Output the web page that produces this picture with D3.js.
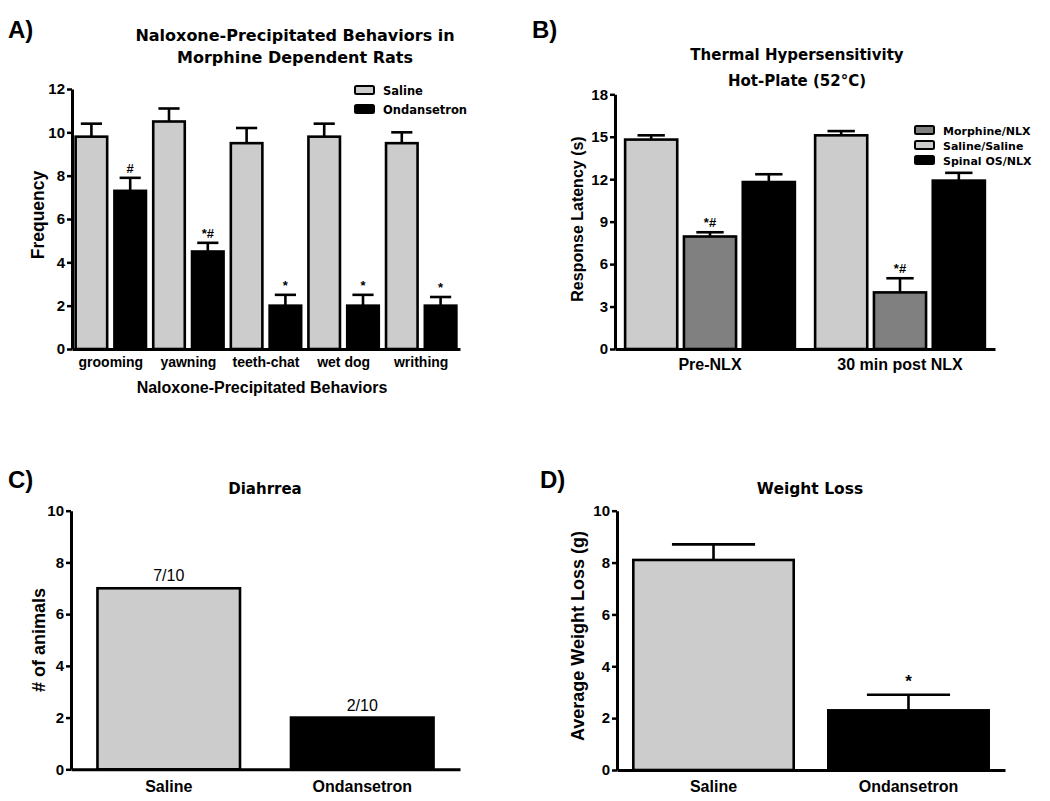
<!DOCTYPE html>
<html><head><meta charset="utf-8">
<script src="https://cdn.jsdelivr.net/npm/d3@7"></script>
<style>body{margin:0;background:#fff}svg{display:block}</style>
</head><body>
<script>
// ---------- DATA ----------
// Panel A
const behaviors = ["grooming", "yawning", "teeth-chat", "wet dog", "writhing"];
const seriesA = ["Saline", "Ondansetron"];
const salineFreq = [9.8, 10.5, 9.5, 9.8, 9.5];
const salineFreqErr = [0.6, 0.6, 0.7, 0.6, 0.5];
const ondFreq = [7.3, 4.5, 2.0, 2.0, 2.0];
const ondFreqErr = [0.6, 0.4, 0.5, 0.5, 0.4];
const ondFreqSig = ["#", "*#", "*", "*", "*"];
const ticksA = [0, 2, 4, 6, 8, 10, 12];

// Panel B
const timepoints = ["Pre-NLX", "30 min post NLX"];
const seriesB = ["Saline/Saline", "Morphine/NLX", "Spinal OS/NLX"];
const legendOrderB = ["Morphine/NLX", "Saline/Saline", "Spinal OS/NLX"];
const salSalLatency = [14.8, 15.1];
const salSalErr = [0.3, 0.3];
const morphLatency = [7.95, 4.0];
const morphErr = [0.3, 1.0];
const morphSig = ["*#", "*#"];
const spinalLatency = [11.8, 11.9];
const spinalErr = [0.55, 0.55];
const ticksB = [0, 3, 6, 9, 12, 15, 18];

// Panel C
const groupsCD = ["Saline", "Ondansetron"];
const diarrheaCount = [7, 2];
const diarrheaLabel = ["7/10", "2/10"];
const ticksCD = [0, 2, 4, 6, 8, 10];

// Panel D
const weightLoss = [8.1, 2.3];
const weightLossErr = [0.6, 0.6];
const weightLossSig = ["", "*"];

// ---------- STYLE ----------
const colors = {"Saline": "#cccccc", "Ondansetron": "#000000",
  "Saline/Saline": "#cccccc", "Morphine/NLX": "#808080", "Spinal OS/NLX": "#000000"};
const axisFont = "'Liberation Sans', Arial, sans-serif";
const titleFont = "'DejaVu Sans', sans-serif";
const SW = 2.6;

const svg = d3.select("body").append("svg").attr("width", 1050).attr("height", 801);

function yAxis(g, y, ticks, left) {
  const ax = g.append("g").attr("transform", `translate(${left},0)`)
    .call(d3.axisLeft(y).tickValues(ticks).tickSize(5).tickSizeOuter(0).tickPadding(2));
  ax.select(".domain").attr("stroke-width", 3);
  ax.selectAll(".tick line").attr("stroke-width", 2.5);
  ax.selectAll("text").attr("font-family", axisFont).attr("font-weight", "bold").attr("font-size", 15).attr("fill", "#000");
  return ax;
}
function xAxis(g, x, bottom, fs, pad) {
  const ax = g.append("g").attr("transform", `translate(0,${bottom})`)
    .call(d3.axisBottom(x).tickSize(0).tickSizeOuter(0).tickPadding(pad));
  ax.select(".domain").attr("stroke-width", 3);
  ax.selectAll("text").attr("font-family", axisFont).attr("font-weight", "bold").attr("font-size", fs).attr("fill", "#000");
  return ax;
}
function bar(g, x, w, y, v, fill) {
  g.append("rect").attr("x", x + SW / 2).attr("width", w - SW)
    .attr("y", y(v)).attr("height", y(0) - y(v))
    .attr("fill", fill).attr("stroke", "#000").attr("stroke-width", SW);
}
function errBar(g, cx, capW, y, v, e) {
  g.append("line").attr("x1", cx).attr("x2", cx).attr("y1", y(v)).attr("y2", y(v + e))
    .attr("stroke", "#000").attr("stroke-width", SW);
  g.append("line").attr("x1", cx - capW / 2).attr("x2", cx + capW / 2).attr("y1", y(v + e)).attr("y2", y(v + e))
    .attr("stroke", "#000").attr("stroke-width", SW);
}
function txt(g, x, y, s, opt = {}) {
  return g.append("text").attr("x", x).attr("y", y).text(s)
    .attr("text-anchor", opt.anchor || "middle")
    .attr("font-family", opt.font || axisFont)
    .attr("font-weight", opt.weight || "bold")
    .attr("font-size", opt.size || 15).attr("fill", "#000");
}
function yLabel(g, x, y, s, size) {
  g.append("text").attr("transform", `translate(${x},${y}) rotate(-90)`).text(s)
    .attr("text-anchor", "middle").attr("font-family", axisFont).attr("font-weight", "bold")
    .attr("font-size", size).attr("fill", "#000");
}
function legend(g, x, y0, dy, items, size) {
  items.forEach((s, i) => {
    const yy = y0 + i * dy;
    g.append("rect").attr("x", x).attr("y", yy - 4).attr("width", 19).attr("height", 8)
      .attr("rx", 1.5).attr("fill", colors[s]).attr("stroke", "#000").attr("stroke-width", 2);
    txt(g, x + 28, yy + 4.5, s, {anchor: "start", font: titleFont, size: size});
  });
}

// ---------- PANEL A ----------
{
  const g = svg.append("g");
  const y = d3.scaleLinear().domain([0, 12]).range([349, 89]);
  const x0 = d3.scaleBand().domain(behaviors).range([72, 460]);
  const x1 = d3.scaleBand().domain(seriesA).range([0, x0.bandwidth()]).paddingInner(0.12).paddingOuter(0.06);
  const vals = {"Saline": salineFreq, "Ondansetron": ondFreq};
  const errs = {"Saline": salineFreqErr, "Ondansetron": ondFreqErr};
  behaviors.forEach((b, i) => {
    seriesA.forEach(s => {
      const bx = x0(b) + x1(s), w = x1.bandwidth(), cx = bx + w / 2;
      errBar(g, cx, w * 0.62, y, vals[s][i], errs[s][i]);
      bar(g, bx, w, y, vals[s][i], colors[s]);
      if (s === "Ondansetron") txt(g, cx, y(vals[s][i] + errs[s][i]) - 5, ondFreqSig[i], {size: 13});
    });
  });
  yAxis(g, y, ticksA, 72);
  xAxis(g, x0, 349, 14, 8);
  yLabel(g, 44, 215, "Frequency", 17.5);
  txt(g, 262, 393, "Naloxone-Precipitated Behaviors", {size: 16});
  txt(g, 295, 41, "Naloxone-Precipitated Behaviors in", {font: titleFont, size: 16});
  txt(g, 295, 63, "Morphine Dependent Rats", {font: titleFont, size: 16});
  legend(g, 355, 90, 19, seriesA, 11.5);
  txt(g, 8, 38, "A)", {anchor: "start", size: 24});
}

// ---------- PANEL B ----------
{
  const g = svg.append("g");
  const y = d3.scaleLinear().domain([0, 18]).range([349, 94.3]);
  const x0 = d3.scaleBand().domain(timepoints).range([615, 995]);
  const x1 = d3.scaleBand().domain(seriesB).range([0, x0.bandwidth()]).paddingInner(0.07).paddingOuter(0.15);
  const vals = {"Saline/Saline": salSalLatency, "Morphine/NLX": morphLatency, "Spinal OS/NLX": spinalLatency};
  const errs = {"Saline/Saline": salSalErr, "Morphine/NLX": morphErr, "Spinal OS/NLX": spinalErr};
  timepoints.forEach((t, i) => {
    seriesB.forEach(s => {
      const bx = x0(t) + x1(s), w = x1.bandwidth(), cx = bx + w / 2;
      errBar(g, cx, w * 0.5, y, vals[s][i], errs[s][i]);
      bar(g, bx, w, y, vals[s][i], colors[s]);
      if (s === "Morphine/NLX") txt(g, cx, y(vals[s][i] + errs[s][i]) - 5, morphSig[i], {size: 13});
    });
  });
  yAxis(g, y, ticksB, 615);
  xAxis(g, x0, 349, 16, 10);
  yLabel(g, 583, 219, "Response Latency (s)", 16);
  txt(g, 797, 60, "Thermal Hypersensitivity", {font: titleFont, size: 15});
  txt(g, 797, 86, "Hot-Plate (52°C)", {font: titleFont, size: 15});
  legend(g, 915, 130, 15, legendOrderB, 11);
  txt(g, 532, 38, "B)", {anchor: "start", size: 24});
}

// ---------- PANEL C ----------
{
  const g = svg.append("g");
  const y = d3.scaleLinear().domain([0, 10]).range([769.3, 510.7]);
  const x = d3.scaleBand().domain(groupsCD).range([71, 460]).paddingInner(0.25).paddingOuter(0.13);
  groupsCD.forEach((c, i) => {
    bar(g, x(c), x.bandwidth(), y, diarrheaCount[i], colors[c]);
    txt(g, x(c) + x.bandwidth() / 2, y(diarrheaCount[i]) - 7, diarrheaLabel[i], {weight: "normal", size: 16});
  });
  yAxis(g, y, ticksCD, 71);
  xAxis(g, x, 769.3, 16, 11);
  yLabel(g, 45, 640, "# of animals", 18);
  txt(g, 265, 494, "Diahrrea", {font: titleFont, size: 15});
  txt(g, 8, 488, "C)", {anchor: "start", size: 24});
}

// ---------- PANEL D ----------
{
  const g = svg.append("g");
  const y = d3.scaleLinear().domain([0, 10]).range([770, 510.7]);
  const x = d3.scaleBand().domain(groupsCD).range([617, 1005]).paddingInner(0.164).paddingOuter(0.077);
  groupsCD.forEach((c, i) => {
    const cx = x(c) + x.bandwidth() / 2;
    errBar(g, cx, x.bandwidth() * 0.51, y, weightLoss[i], weightLossErr[i]);
    bar(g, x(c), x.bandwidth(), y, weightLoss[i], colors[c]);
    if (weightLossSig[i]) txt(g, cx, y(weightLoss[i] + weightLossErr[i]) - 8, weightLossSig[i], {size: 17});
  });
  yAxis(g, y, ticksCD, 617);
  xAxis(g, x, 770, 16, 11);
  yLabel(g, 584, 636, "Average Weight Loss (g)", 18);
  txt(g, 810, 494, "Weight Loss", {font: titleFont, size: 15.5});
  txt(g, 540, 488, "D)", {anchor: "start", size: 24});
}
</script>
</body></html>
